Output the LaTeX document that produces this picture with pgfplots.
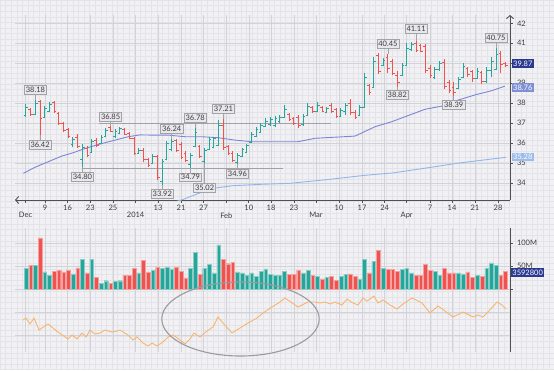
\documentclass[border=0pt]{standalone}
\usepackage{fontspec}
\setmainfont{Lato}
\usepackage{pgfplots}
\usepackage{pgfplotstable}
\pgfplotsset{compat=1.18}
\usetikzlibrary{arrows.meta}

\definecolor{upc}{HTML}{26A69A}
\definecolor{dnc}{HTML}{EF5350}
\definecolor{maA}{HTML}{7B86D8}
\definecolor{maB}{HTML}{93B6E8}
\definecolor{navyc}{HTML}{2B3990}
\definecolor{maAbox}{HTML}{7E8FD6}
\definecolor{maBbox}{HTML}{9DBCEA}
\definecolor{orc}{HTML}{F7B56E}
\definecolor{bgc}{HTML}{F1F1F4}
\definecolor{fineg}{HTML}{E3E3E9}
\definecolor{gridc}{HTML}{D2D2D9}
\definecolor{axisc}{HTML}{505050}
\definecolor{labc}{HTML}{3C3C3C}
\definecolor{boxf}{HTML}{E8E8EC}
\definecolor{boxd}{HTML}{A2A2A8}
\definecolor{srl}{HTML}{A0A0A6}
\definecolor{ellc}{HTML}{9A9AA0}

\pgfdeclareplotmark{nothing}{}
\pgfdeclareplotmark{otick}{\pgfpathmoveto{\pgfqpoint{-2.2pt}{0pt}}\pgfpathlineto{\pgfqpoint{0pt}{0pt}}\pgfusepathqstroke}
\pgfdeclareplotmark{ctick}{\pgfpathmoveto{\pgfqpoint{0pt}{0pt}}\pgfpathlineto{\pgfqpoint{2.2pt}{0pt}}\pgfusepathqstroke}

% i o h l c v  (up bars)
\pgfplotstableread{
i o h l c v
0 37.40 37.95 37.33 37.80 45
2 37.45 38.18 37.40 38.00 52
4 37.30 37.85 37.25 37.75 37
5 37.60 38.05 37.55 37.95 30
10 35.95 36.30 35.80 36.20 33
12 35.20 35.95 34.80 35.80 65
14 35.55 36.20 35.50 36.10 65
16 36.00 36.40 35.95 36.30 13
17 36.35 36.75 36.30 36.65 18
19 36.35 36.70 36.25 36.60 16
20 36.50 36.80 36.45 36.75 18
24 35.50 35.75 35.45 35.65 35
27 35.00 35.45 34.95 35.35 41
29 34.10 35.20 33.92 35.10 45
30 35.20 36.10 35.15 36.00 47
31 35.70 36.24 35.60 36.10 44
35 34.95 35.50 34.79 35.40 45
36 35.85 36.78 35.80 36.55 80
38 35.10 35.75 35.02 35.65 45
39 35.70 36.30 35.65 36.20 54
40 35.80 36.30 35.75 36.25 35
41 35.90 37.15 35.85 36.90 96
45 35.05 35.50 34.96 35.40 37
46 35.35 35.75 35.30 35.70 35
47 35.55 35.95 35.50 35.90 30
48 36.05 36.55 36.00 36.45 35
49 36.35 36.80 36.30 36.70 28
50 36.55 37.00 36.50 36.90 38
51 36.85 37.25 36.80 37.10 44
52 36.95 37.30 36.85 37.20 32
53 36.90 37.35 36.80 37.25 30
54 37.10 37.40 37.00 37.30 30
55 37.30 37.90 37.25 37.70 38
59 36.95 37.45 36.85 37.35 35
60 37.40 38.00 37.35 37.85 41
62 37.60 38.05 37.55 37.90 28
64 37.55 37.80 37.50 37.75 26
67 37.35 37.75 37.30 37.65 28
68 37.60 38.00 37.40 37.90 32
71 37.40 37.90 37.35 37.80 22
72 37.80 39.50 37.75 39.30 65
74 38.80 40.30 38.75 40.10 60
76 39.90 40.25 39.85 40.15 45
80 39.40 40.00 39.35 39.90 43
81 39.90 41.00 39.85 40.75 45
82 40.70 41.05 40.60 40.95 35
87 39.30 39.80 39.20 39.70 38
88 39.70 40.10 39.60 40.00 30
92 38.75 39.30 38.70 39.20 35
93 39.30 40.00 39.25 39.85 33
96 39.25 39.75 39.20 39.60 30
98 39.10 39.80 39.00 39.65 45
99 39.65 40.30 39.30 40.10 57
100 39.70 40.75 39.65 40.45 52
}\upbars

% down bars
\pgfplotstableread{
i o h l c v
1 37.70 37.75 37.35 37.45 52
3 38.10 38.15 36.42 37.25 111
6 38.05 38.12 37.50 37.60 38
7 37.50 37.55 36.90 37.00 41
8 37.00 37.05 36.55 36.65 37
9 36.70 36.75 36.25 36.35 41
11 36.30 36.45 35.75 35.85 46
13 35.75 35.85 35.30 35.40 35
15 36.15 36.25 35.80 35.90 26
18 36.80 36.85 36.55 36.60 13
21 36.70 36.75 36.40 36.45 30
22 36.50 36.55 36.20 36.25 30
23 36.25 36.30 35.40 35.50 45
25 35.65 35.75 35.05 35.20 63
26 35.20 35.25 34.80 34.90 37
28 35.35 35.40 34.15 34.30 47
32 36.15 36.20 35.55 35.65 47
33 35.95 36.05 35.20 35.30 38
34 35.50 35.60 35.05 35.15 24
37 35.85 35.90 35.25 35.35 32
42 36.90 37.21 35.65 35.80 65
43 35.85 35.90 35.40 35.50 55
44 35.50 35.60 35.05 35.15 58
56 37.45 37.50 37.10 37.20 32
57 37.25 37.30 36.90 37.00 32
58 37.30 37.40 36.75 36.90 41
61 37.80 37.85 37.50 37.60 30
63 37.80 37.85 37.55 37.60 22
65 37.90 38.00 37.50 37.60 28
66 37.70 37.75 37.25 37.35 19
69 38.00 38.20 37.40 37.55 33
70 37.55 37.65 37.20 37.30 27
73 38.90 38.95 38.40 38.55 35
75 40.40 40.50 39.45 39.60 84
77 40.30 40.45 39.50 39.75 43
78 40.10 40.20 39.40 39.50 43
79 39.40 39.60 38.82 39.05 38
83 41.00 41.11 40.55 40.65 30
84 40.90 40.95 40.55 40.60 30
85 40.85 40.95 39.50 39.65 53
86 39.75 39.90 39.25 39.40 40
89 40.05 40.20 38.70 38.85 45
90 39.05 39.15 38.50 38.65 35
91 38.80 39.05 38.39 38.55 35
94 39.75 39.80 39.30 39.45 37
95 39.60 39.65 39.05 39.25 25
97 39.55 39.60 38.95 39.10 28
101 40.50 40.60 39.50 39.95 30
102 40.00 40.05 39.80 39.87 38
}\dnbars

\pgfplotsset{
  base/.style={scale only axis, width=495pt, xmin=-2.34, xmax=102.98,
    axis line style={axisc, line width=0.9pt},
    tick style={axisc, line width=0.6pt}, major tick length=2.5pt, tick align=outside,
    grid=major, major grid style={gridc, line width=0.5pt},
    tick label style={font=\fontsize{7.5}{8}\selectfont, text=labc},
    /pgf/number format/assume math mode=true, clip mode=individual},
}
\tikzset{
  box/.style={draw=boxd, fill=boxf, line width=0.5pt, inner xsep=1.5pt, inner ysep=1.7pt,
    text=labc, font=\fontsize{7.5}{8}\selectfont, text height=5.4pt, text depth=0pt},
  leader/.style={draw=boxd, line width=0.6pt},
  valbox/.style={inner xsep=1.4pt, inner ysep=1.6pt, text=white,
    font=\fontsize{7.5}{8}\selectfont, text height=5.4pt, text depth=0pt},
}
\newcommand\up[3]{\draw[leader] (axis cs:#1,#2) -- ++(0pt,#3) node[box,anchor=south]{#2};}
\newcommand\dn[3]{\draw[leader] (axis cs:#1,#2) -- ++(0pt,-#3) node[box,anchor=north]{#2};}

\begin{document}
\begin{tikzpicture}
\useasboundingbox (0,0) rectangle (554pt,-370pt);
\fill[bgc] (0,0) rectangle (554pt,-370pt);
\draw[fineg, line width=0.3pt] (0,-370pt) grid[step=5.6pt] (554pt,0);
\clip (0,0) rectangle (554pt,-370pt);

% ---------------- price panel
\begin{axis}[base, name=price, at={(15pt,-200pt)}, anchor=south west, height=185pt,
  ymin=33.165, ymax=42.415,
  axis x line*=bottom, axis y line*=right,
  x axis line style={{Straight Barb[length=3pt,width=7pt]}-},
  y axis line style={-{Straight Barb[length=3pt,width=7pt]}},
  xtick={4.04,8.85,13.68,18.51,28.09,32.98,37.77,47.40,52.13,57.02,66.60,71.49,76.30,85.96,90.64,95.53,100.43},
  xticklabels={9,16,23,25,13,21,27,10,18,23,10,17,24,7,14,21,28},
  extra x ticks={-0.10,23.32,42.62,61.70,81.00},
  extra x tick labels={Dec,2014,Feb,Mar,Apr},
  extra x tick style={xticklabel style={yshift=-7pt}},
  xticklabel style={yshift=0.5pt},
  ytick={34,35,36,37,38,39,40,41,42},
  yticklabels={34,35,36,37,38,39,{},41,42},
  yticklabel style={xshift=1pt},
]
% support / resistance
\addplot[srl, line width=1.4pt] coordinates {(15.5,37.0) (64.9,37.0)};
\addplot[srl, line width=1.4pt] coordinates {(11.9,34.75) (54.7,34.75)};
% moving averages
\addplot[maB, line width=0.9pt] coordinates {(31.0,33.02) (33.5,33.20) (36.2,33.45) (39.8,33.75) (44.0,33.88) (50.0,33.95) (56.2,34.00) (64.7,34.20) (72.1,34.40) (78.1,34.52) (85.3,34.77) (92.3,35.02) (102.1,35.30)};
\addplot[maA, line width=0.9pt] coordinates {(-0.57,34.50) (1.91,34.80) (4.74,35.08) (7.60,35.36) (10.06,35.53) (12.55,35.74) (15.38,35.94) (18.94,36.16) (21.77,36.33) (24.26,36.42) (26.74,36.41) (30.21,36.41) (33.83,36.33) (37.38,36.33) (40.85,36.28) (44.47,36.16) (48.02,36.08) (57.87,36.08) (61.49,36.25) (70.0,36.36) (74.26,36.83) (77.81,37.08) (84.89,37.70) (88.45,37.86) (91.91,38.16) (95.53,38.42) (99.09,38.63) (101.91,38.86)};
% OHLC bars
\addplot[dnc, only marks, mark=nothing, error bars/.cd, y dir=plus, y explicit, error mark=none, error bar style={draw=dnc, line width=1pt}]
  table[x=i, y=l, y error plus expr=\thisrow{h}-\thisrow{l}] {\dnbars};
\addplot[dnc, only marks, mark=otick, mark options={draw=dnc, line width=1pt}] table[x=i, y=o] {\dnbars};
\addplot[dnc, only marks, mark=ctick, mark options={draw=dnc, line width=1pt}] table[x=i, y=c] {\dnbars};
\addplot[upc, only marks, mark=nothing, error bars/.cd, y dir=plus, y explicit, error mark=none, error bar style={draw=upc, line width=1pt}]
  table[x=i, y=l, y error plus expr=\thisrow{h}-\thisrow{l}] {\upbars};
\addplot[upc, only marks, mark=otick, mark options={draw=upc, line width=1pt}] table[x=i, y=o] {\upbars};
\addplot[upc, only marks, mark=ctick, mark options={draw=upc, line width=1pt}] table[x=i, y=c] {\upbars};
% callouts
\up{2}{38.18}{5pt}
\dn{3}{36.42}{5pt}
\dn{12}{34.80}{5pt}
\up{18}{36.85}{5pt}
\dn{29}{33.92}{4pt}
\up{31}{36.24}{5pt}
\dn{35}{34.79}{5pt}
\up{36}{36.78}{5pt}
\dn{38}{35.02}{20pt}
\up{42}{37.21}{6pt}
\dn{45}{34.96}{5pt}
\up{77}{40.45}{6pt}
\dn{79}{38.82}{3pt}
\up{83}{41.11}{8pt}
\dn{91}{38.39}{4.5pt}
\up{100}{40.75}{6pt}
\coordinate (L1) at (axis cs:102.98,39.98);
\coordinate (L2) at (axis cs:102.98,38.80);
\coordinate (L3) at (axis cs:102.98,35.31);
\end{axis}

% ---------------- volume panel
\begin{axis}[base, name=vol, at={(15pt,-289pt)}, anchor=south west, height=61pt,
  ymin=0, ymax=132.6,
  axis x line*=bottom, axis y line*=right,
  x axis line style={draw=none}, xtick style={draw=none},
  xtick={-0.10,4.04,8.85,13.68,18.51,23.32,28.09,32.98,37.77,42.62,47.40,52.13,57.02,61.70,66.60,71.49,76.30,81.00,85.96,90.64,95.53,100.43},
  xticklabels={},
  ytick={0,50,100}, yticklabels={{},50M,100M},
  yticklabel style={xshift=1pt},
]
\addplot[ybar, bar width=3.7pt, bar shift=0pt, fill=dnc, draw=dnc!55!white, line width=0.35pt] table[x=i, y=v] {\dnbars};
\addplot[ybar, bar width=3.7pt, bar shift=0pt, fill=upc, draw=upc!55!white, line width=0.35pt] table[x=i, y=v] {\upbars};
\coordinate (L4) at (axis cs:102.98,35.9);
\end{axis}

% ---------------- indicator panel
\begin{axis}[base, name=ind, at={(15pt,-352pt)}, anchor=south west, height=63pt,
  ymin=-2, ymax=61,
  axis x line*=bottom, axis y line*=right,
  x axis line style={draw=none}, xtick style={draw=none}, ytick style={draw=none},
  xtick={-0.10,4.04,8.85,13.68,18.51,23.32,28.09,32.98,37.77,42.62,47.40,52.13,57.02,61.70,66.60,71.49,76.30,81.00,85.96,90.64,95.53,100.43},
  xticklabels={},
  ytick={15,38}, yticklabels={},
]
\addplot[orc, line width=0.9pt] coordinates {
(-0.64,30) (0.0,32) (0.85,26) (1.70,32) (2.77,20) (4.68,26) (6.81,18) (8.94,11) (9.79,15) (10.85,11)
(11.91,17) (12.77,13) (13.62,20) (14.68,16) (15.74,17) (16.81,20) (18.30,18) (19.36,19) (20.0,20) (21.70,15)
(22.77,10) (23.62,13) (24.89,7) (25.96,4) (26.81,7) (27.87,4) (29.15,8) (30.21,13) (31.28,15) (32.77,10)
(33.83,6) (34.89,11) (35.74,17) (37.02,13) (38.51,19) (39.79,23) (40.85,33) (41.91,27) (43.83,17) (45.53,22)
(47.23,27) (49.15,32) (50.43,37) (52.34,43) (54.04,48) (55.11,52) (57.87,43) (60.0,48) (61.49,48) (62.55,47)
(63.62,48) (64.68,46) (65.74,48) (67.23,45) (68.30,51) (69.57,47) (70.64,45) (71.70,52) (72.55,49) (73.19,51)
(74.04,54) (74.89,47) (75.96,50) (77.45,45) (78.94,41) (80.21,46) (82.13,52) (84.26,47) (85.96,37) (87.66,44)
(89.15,39) (90.85,33) (92.98,38) (95.11,33) (96.17,35) (97.23,33) (98.30,38) (100.21,48) (101.28,45) (102.13,41)};
\end{axis}

% ellipse annotation
\draw[ellc, line width=1.1pt] (240.5pt,-319pt) ellipse [x radius=78.7pt, y radius=37pt];

% right value labels
\node[valbox, fill=navyc, anchor=west] at ([xshift=1.6pt]L1) {39.87};
\node[valbox, fill=maAbox, anchor=west] at ([xshift=1.6pt]L2) {38.76};
\node[valbox, fill=maBbox, anchor=west] at ([xshift=1.6pt]L3) {35.28};
\node[valbox, fill=navyc, anchor=west] at ([xshift=0.8pt]L4) {3592800};
\end{tikzpicture}
\end{document}
